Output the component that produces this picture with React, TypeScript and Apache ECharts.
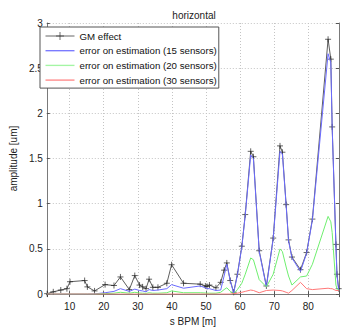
import React, { useEffect, useRef } from "react";
import * as echarts from "echarts";

const sPos = [3.4, 5.2, 7.4, 9.2, 10.1, 14.4, 15.2, 17.3, 20.4, 23.0, 24.9, 27.5, 29.1, 30.5, 31.4, 32.4, 33.3, 34.4, 35.9, 38.5, 39.9, 43.4, 48.3, 49.8, 50.3, 51.0, 52.9, 54.3, 55.3, 56.1, 57.1, 58.1, 59.2, 60.5, 61.5, 63.1, 63.9, 65.6, 67.7, 69.7, 71.7, 72.4, 73.5, 74.2, 75.2, 77.7, 79.5, 81.2, 85.8, 86.6, 87.0, 88.1, 88.4, 88.9];

const gmEffect = [0.005, 0.025, 0.045, 0.06, 0.137, 0.15, 0.08, 0.035, 0.105, 0.095, 0.19, 0.05, 0.205, 0.1, 0.08, 0.06, 0.165, 0.075, 0.075, 0.12, 0.325, 0.12, 0.11, 0.09, 0.085, 0.1, 0.07, 0.13, 0.265, 0.345, 0.15, 0.02, 0.22, 0.53, 0.88, 1.58, 1.52, 0.48, 0.09, 0.62, 1.64, 1.57, 0.99, 0.6, 0.41, 0.27, 0.46, 0.83, 2.82, 2.6, 1.85, 0.55, 0.22, 0.06];

const err15 = [0, 0, 0, 0, 0, 0, 0, 0.002, 0.015, 0.03, 0.06, 0.03, 0.055, 0.04, 0.035, 0.025, 0.05, 0.04, 0.045, 0.06, 0.105, 0.065, 0.09, 0.07, 0.06, 0.06, 0.04, 0.045, 0.2, 0.33, 0.15, 0.01, 0.21, 0.52, 0.87, 1.54, 1.5, 0.47, 0.08, 0.61, 1.58, 1.55, 0.98, 0.59, 0.4, 0.25, 0.45, 0.82, 2.66, 2.56, 1.84, 0.54, 0.21, 0.05];

const err20 = [0, 0, 0, 0, 0, 0, 0, 0, 0.005, 0.01, 0.02, 0.01, 0.02, 0.012, 0.01, 0.008, 0.015, 0.01, 0.01, 0.015, 0.035, 0.015, 0.015, 0.012, 0.01, 0.01, 0.01, 0.02, 0.05, 0.07, 0.03, 0.0, 0.05, 0.12, 0.22, 0.4, 0.38, 0.16, 0.08, 0.22, 0.5, 0.47, 0.3, 0.2, 0.1, 0.19, 0.2, 0.33, 0.86, 0.8, 0.68, 0.1, 0.06, 0.05];

const err30 = [0, 0, 0, 0, 0, 0, 0, 0, 0, 0, 0, 0, 0, 0, 0, 0, 0, 0, 0, 0, 0, 0, 0, 0, 0, 0, 0, 0, 0, 0, 0, 0.005, 0.01, 0.02, 0.03, 0.045, 0.04, 0.015, 0.04, 0.045, 0.04, 0.035, 0.02, 0.01, 0.04, 0.13, 0.06, 0.05, 0.065, 0.06, 0.06, 0.04, 0.04, 0.04];

const seriesNames = ["GM effect", "error on estimation (15 sensors)", "error on estimation (20 sensors)", "error on estimation (30 sensors)"];

const yTicks = [0, 0.5, 1, 1.5, 2, 2.5, 3];

const pair = (vals: number[]) => sPos.map((s, i) => [s, vals[i]]);

export default function App() {
  const ref = useRef<HTMLDivElement>(null);
  useEffect(() => {
    if (!ref.current) return;
    const chart = echarts.init(ref.current, null, { renderer: "svg" });
    const font = "Liberation Sans, Arial, sans-serif";
    const lineIcon = "path://M0,0H30V1.4H0Z";
    const axisCommon = {
      axisLine: { show: true, lineStyle: { color: "#7a7a7a", width: 1 } },
      axisTick: { show: true, inside: true, length: 3, lineStyle: { color: "#555" } },
    };
    chart.setOption({
      animation: false,
      backgroundColor: "#fff",
      title: {
        text: "horizontal",
        left: 189,
        textAlign: "center",
        top: 5,
        textStyle: { fontSize: 10, fontWeight: "normal", color: "#222", fontFamily: font },
      },
      legend: {
        orient: "vertical",
        left: 40,
        top: 27,
        padding: [3, 2, 2, 5],
        itemGap: 2.7,
        itemWidth: 29,
        itemHeight: 10,
        borderColor: "#555",
        borderWidth: 1,
        backgroundColor: "#fff",
        data: [
          { name: seriesNames[0], lineStyle: { width: 1, color: "#666" }, itemStyle: { borderWidth: 0.7, borderColor: "#333" } },
          { name: seriesNames[1], icon: lineIcon },
          { name: seriesNames[2], icon: lineIcon },
          { name: seriesNames[3], icon: lineIcon },
        ],
        textStyle: { fontSize: 9.7, color: "#111", fontFamily: font, lineHeight: 12 },
      },
      grid: { left: 36, right: 0, top: 23, bottom: 29 },
      xAxis: [
        {
          type: "value",
          min: 3.3,
          max: 89,
          splitNumber: 9,
          name: "s BPM [m]",
          nameLocation: "middle",
          nameGap: 19,
          nameTextStyle: { fontSize: 10, color: "#222", fontFamily: font },
          ...axisCommon,
          axisLabel: {
            fontSize: 10,
            color: "#222",
            fontFamily: font,
            margin: 7,
            formatter: (v: number) => (Math.abs(v % 10) < 1e-6 ? String(v) : ""),
          },
          splitLine: { show: true, lineStyle: { color: "#c4c4c4", type: [1, 2], width: 1 } },
        },
        {
          type: "value",
          position: "top",
          min: 3.3,
          max: 89,
          splitNumber: 9,
          ...axisCommon,
          axisLabel: { show: false },
          splitLine: { show: false },
        },
      ],
      yAxis: [
        {
          type: "value",
          min: 0,
          max: 3,
          interval: 0.5,
          name: "amplitude [um]",
          nameLocation: "middle",
          nameGap: 22,
          nameTextStyle: { fontSize: 10, color: "#222", fontFamily: font },
          ...axisCommon,
          axisLabel: {
            fontSize: 10,
            color: "#222",
            fontFamily: font,
            margin: 4,
            formatter: (v: number) => (yTicks.indexOf(v) >= 0 ? String(v) : ""),
          },
          splitLine: { show: true, lineStyle: { color: "#c4c4c4", type: [1, 2], width: 1 } },
        },
        {
          type: "value",
          position: "right",
          min: 0,
          max: 3,
          interval: 0.5,
          ...axisCommon,
          axisLabel: { show: false },
          splitLine: { show: false },
        },
      ],
      series: [
        {
          name: seriesNames[0],
          type: "line",
          data: pair(gmEffect),
          symbol: "path://M0,5L10,5M5,0L5,10",
          symbolSize: 6,
          showAllSymbol: true,
          lineStyle: { color: "#5e5e5e", width: 1 },
          itemStyle: { color: "#5e5e5e", borderColor: "#222", borderWidth: 0.7 },
          z: 2,
        },
        {
          name: seriesNames[1],
          type: "line",
          data: pair(err15),
          symbol: "none",
          lineStyle: { color: "#6b6bff", width: 1 },
          itemStyle: { color: "#7b7bff" },
          z: 3,
        },
        {
          name: seriesNames[2],
          type: "line",
          data: pair(err20),
          symbol: "none",
          lineStyle: { color: "#6fef6f", width: 1 },
          itemStyle: { color: "#a4f5a4" },
          z: 3,
        },
        {
          name: seriesNames[3],
          type: "line",
          data: pair(err30),
          symbol: "none",
          lineStyle: { color: "#ff7777", width: 1 },
          itemStyle: { color: "#ff8a8a" },
          z: 3,
        },
      ],
    });
    return () => chart.dispose();
  }, []);
  return (
    <div
      ref={ref}
      style={{ position: "absolute", left: 0, top: 0, width: 342, height: 331 }}
    />
  );
}
